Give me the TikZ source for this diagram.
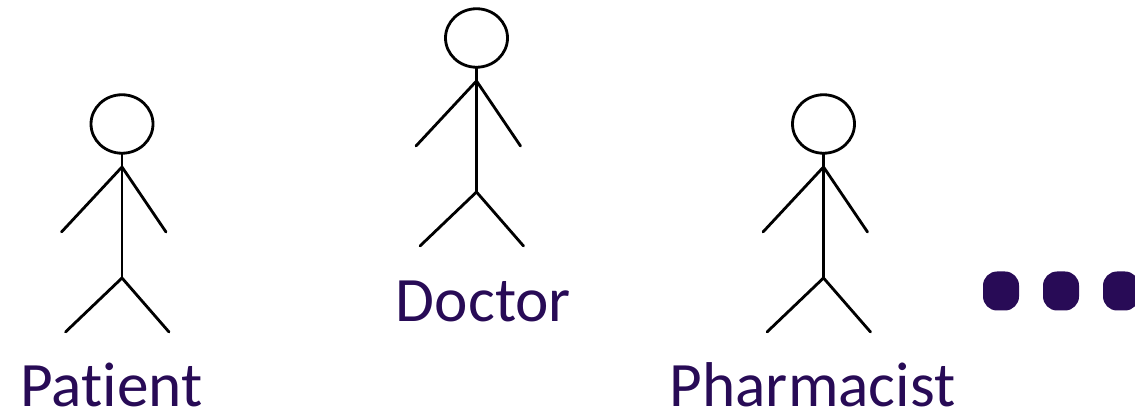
\documentclass[tikz,border=0pt]{standalone}
\usepackage{fontspec}
\setmainfont{Carlito}[Ligatures=NoCommon]
\usepackage{xcolor}
\definecolor{labelpurple}{HTML}{280B56}
\newcommand{\stickfigure}[2]{%
  \draw[stick] (#1,#2) ellipse (0.62 and 0.585);
  \draw[stick] (#1,#2-0.585) -- (#1,#2-3.08);
  \draw[stick] (#1-1.21,#2-2.16) -- (#1,#2-0.86) -- (#1+0.88,#2-2.16);
  \draw[stick] (#1-1.13,#2-4.16) -- (#1,#2-3.08) -- (#1+0.94,#2-4.16);
}

\begin{document}
\begin{tikzpicture}[font=\fontsize{36}{42}\selectfont,
  stick/.style={black, line width=1.6pt, line cap=round, line join=round},
  role/.style={text=labelpurple, inner sep=0pt, anchor=base},
  dot/.style={fill=labelpurple, rounded corners=8pt, minimum width=0.72cm, minimum height=0.78cm, inner sep=0pt}]
\useasboundingbox (0,0) rectangle (22.7,8.24);

\stickfigure{2.44}{5.76}
\stickfigure{9.53}{7.48}
\stickfigure{16.47}{5.76}

\node[role] (patient) at (2.23,0.1) {Patient};
\node[role] (doctor) at (9.67,1.8) {Doctor};
\node[role] (pharmacist) at (16.25,0.1) {Pharmacist};

\begin{scope}
\clip (0,0) rectangle (22.7,8.24);
\node[dot] (dot1) at (20.02,2.42) {};
\node[dot] (dot2) at (21.22,2.42) {};
\node[dot] (dot3) at (22.42,2.42) {};
\end{scope}
\end{tikzpicture}
\end{document}
